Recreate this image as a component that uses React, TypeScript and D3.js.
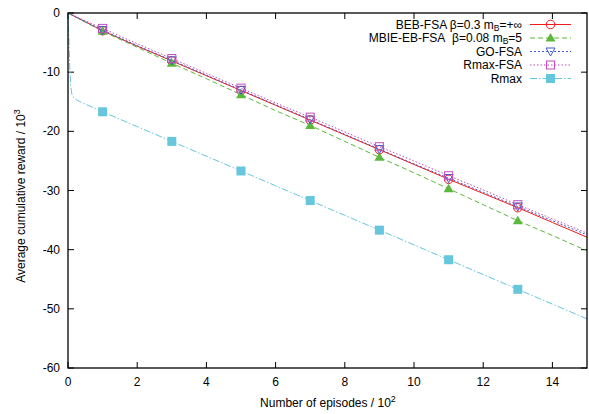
import React from 'react';
import * as d3 from 'd3';

// episodes / 10^2
const episodes = [0, 1, 2, 3, 4, 5, 6, 7, 8, 9, 10, 11, 12, 13, 14, 15];
const bebFsa = [0, -3.0, -5.6, -8.1, -10.6, -13.1, -15.6, -18.1, -20.6, -23.1, -25.6, -28.1, -30.5, -32.9, -35.4, -37.9];
const mbieEbFsa = [0, -3.1, -5.8, -8.5, -11.1, -13.8, -16.5, -19.0, -21.7, -24.4, -27.0, -29.7, -32.4, -35.1, -37.6, -40.2];
const goFsa = [0, -2.9, -5.5, -8.0, -10.5, -13.0, -15.5, -18.0, -20.5, -23.0, -25.5, -27.9, -30.3, -32.7, -35.1, -37.5];
const rmaxFsa = [0, -2.6, -5.2, -7.7, -10.2, -12.7, -15.2, -17.6, -20.1, -22.6, -25.0, -27.5, -29.9, -32.4, -34.8, -37.2];

const rmaxEpisodes = [0, 0.01, 0.03, 0.05, 0.08, 0.12, 0.25, 0.5, 1, 2, 3, 4, 5, 6, 7, 8, 9, 10, 11, 12, 13, 14, 15];
const rmax = [0, -2, -5, -9, -12.5, -14, -14.7, -15.4, -16.7, -19.2, -21.7, -24.2, -26.7, -29.2, -31.7, -34.2, -36.7, -39.2, -41.7, -44.2, -46.7, -49.2, -51.7];

const markerEpisodes = [1, 3, 5, 7, 9, 11, 13];
const xTicks = [0, 2, 4, 6, 8, 10, 12, 14];
const yTicks = [0, -10, -20, -30, -40, -50, -60];

const font = '"Liberation Sans", Arial, sans-serif';

const W = 589;
const H = 414;
const left = 68;
const right = 587;
const top = 13;
const bottom = 368;

const x = d3.scaleLinear().domain([0, 15]).range([left, right]);
const y = d3.scaleLinear().domain([-60, 0]).range([bottom, top]);

type Series = {
  name: React.ReactNode;
  xs: number[];
  ys: number[];
  color: string;
  dash?: string;
  marker: 'circle' | 'triUp' | 'triDown' | 'square' | 'squareFill';
};

const series: Series[] = [
  {
    name: (<>BEB-FSA β=0.3 m<tspan dy="2" fontSize="8.5">B</tspan><tspan dy="-2">=+∞</tspan></>),
    xs: episodes, ys: bebFsa, color: '#ee1c1c', marker: 'circle',
  },
  {
    name: (<>MBIE-EB-FSA{'\u00A0 '}β=0.08 m<tspan dy="2" fontSize="8.5">B</tspan><tspan dy="-2">=5</tspan></>),
    xs: episodes, ys: mbieEbFsa, color: '#5cb83c', dash: '5,3', marker: 'triUp',
  },
  { name: 'GO-FSA', xs: episodes, ys: goFsa, color: '#3c5cc8', dash: '2,2', marker: 'triDown' },
  { name: 'Rmax-FSA', xs: episodes, ys: rmaxFsa, color: '#c24cc2', dash: '1.5,2', marker: 'square' },
  { name: 'Rmax', xs: rmaxEpisodes, ys: rmax, color: '#66c6dc', dash: '7,2,1.5,2', marker: 'squareFill' },
];

function Marker({ kind, cx, cy, color }: { kind: Series['marker']; cx: number; cy: number; color: string }) {
  if (kind === 'circle') return <circle cx={cx} cy={cy} r={4.3} fill="none" stroke={color} strokeWidth={1} />;
  if (kind === 'triUp')
    return <path d={`M${cx},${cy - 5}L${cx + 5},${cy + 3.5}L${cx - 5},${cy + 3.5}Z`} fill={color} />;
  if (kind === 'triDown')
    return <path d={`M${cx},${cy + 4.5}L${cx + 4.5},${cy - 3.5}L${cx - 4.5},${cy - 3.5}Z`} fill="none" stroke={color} strokeWidth={1} />;
  if (kind === 'square')
    return <rect x={cx - 4} y={cy - 4} width={8} height={8} fill="none" stroke={color} strokeWidth={1} />;
  return <rect x={cx - 4.5} y={cy - 4.5} width={9} height={9} fill={color} />;
}

export default function App() {
  const line = d3.line<[number, number]>().x(d => x(d[0])).y(d => y(d[1]));
  const legendY = [24.5, 38, 51.5, 65, 78.5];

  return (
    <svg width={W} height={H} style={{ position: 'absolute', left: 0, top: 0, background: '#fff' }} fontFamily={font}>
      {/* ticks, mirrored on all sides */}
      {xTicks.map(t => (
        <g key={'x' + t}>
          <line x1={x(t)} x2={x(t)} y1={bottom} y2={bottom - 6} stroke="#000" />
          <line x1={x(t)} x2={x(t)} y1={top} y2={top + 6} stroke="#000" />
          <text x={x(t)} y={386} textAnchor="middle" fontSize={12}>{t}</text>
        </g>
      ))}
      {yTicks.map(t => (
        <g key={'y' + t}>
          <line x1={left} x2={left + 6} y1={y(t)} y2={y(t)} stroke="#000" />
          <line x1={right} x2={right - 6} y1={y(t)} y2={y(t)} stroke="#000" />
          <text x={60} y={y(t) + 4} textAnchor="end" fontSize={12}>{t}</text>
        </g>
      ))}

      {series.map((s, i) => (
        <g key={i}>
          <path
            d={line(s.xs.map((v, j) => [v, s.ys[j]] as [number, number])) || ''}
            fill="none"
            stroke={s.color}
            strokeWidth={1}
            strokeDasharray={s.dash}
          />
          {markerEpisodes.map(m => {
            const j = s.xs.indexOf(m);
            return <Marker key={m} kind={s.marker} cx={x(m)} cy={y(s.ys[j])} color={s.color} />;
          })}
        </g>
      ))}

      <rect x={left} y={top} width={right - left} height={bottom - top} fill="none" stroke="#000" strokeWidth={1.3} />

      {/* legend */}
      {series.map((s, i) => (
        <g key={'l' + i}>
          <text x={522} y={legendY[i] + 4} textAnchor="end" fontSize={12}>{s.name}</text>
          <line x1={530} x2={571} y1={legendY[i]} y2={legendY[i]} stroke={s.color} strokeDasharray={s.dash} />
          <Marker kind={s.marker} cx={550.5} cy={legendY[i]} color={s.color} />
        </g>
      ))}

      <text x={328} y={407} textAnchor="middle" fontSize={12}>
        Number of episodes / 10<tspan dy="-5" fontSize={9}>2</tspan>
      </text>
      <text transform={`translate(25,196) rotate(-90)`} textAnchor="middle" fontSize={12}>
        Average cumulative reward / 10<tspan dy="-5" fontSize={9}>3</tspan>
      </text>
    </svg>
  );
}
